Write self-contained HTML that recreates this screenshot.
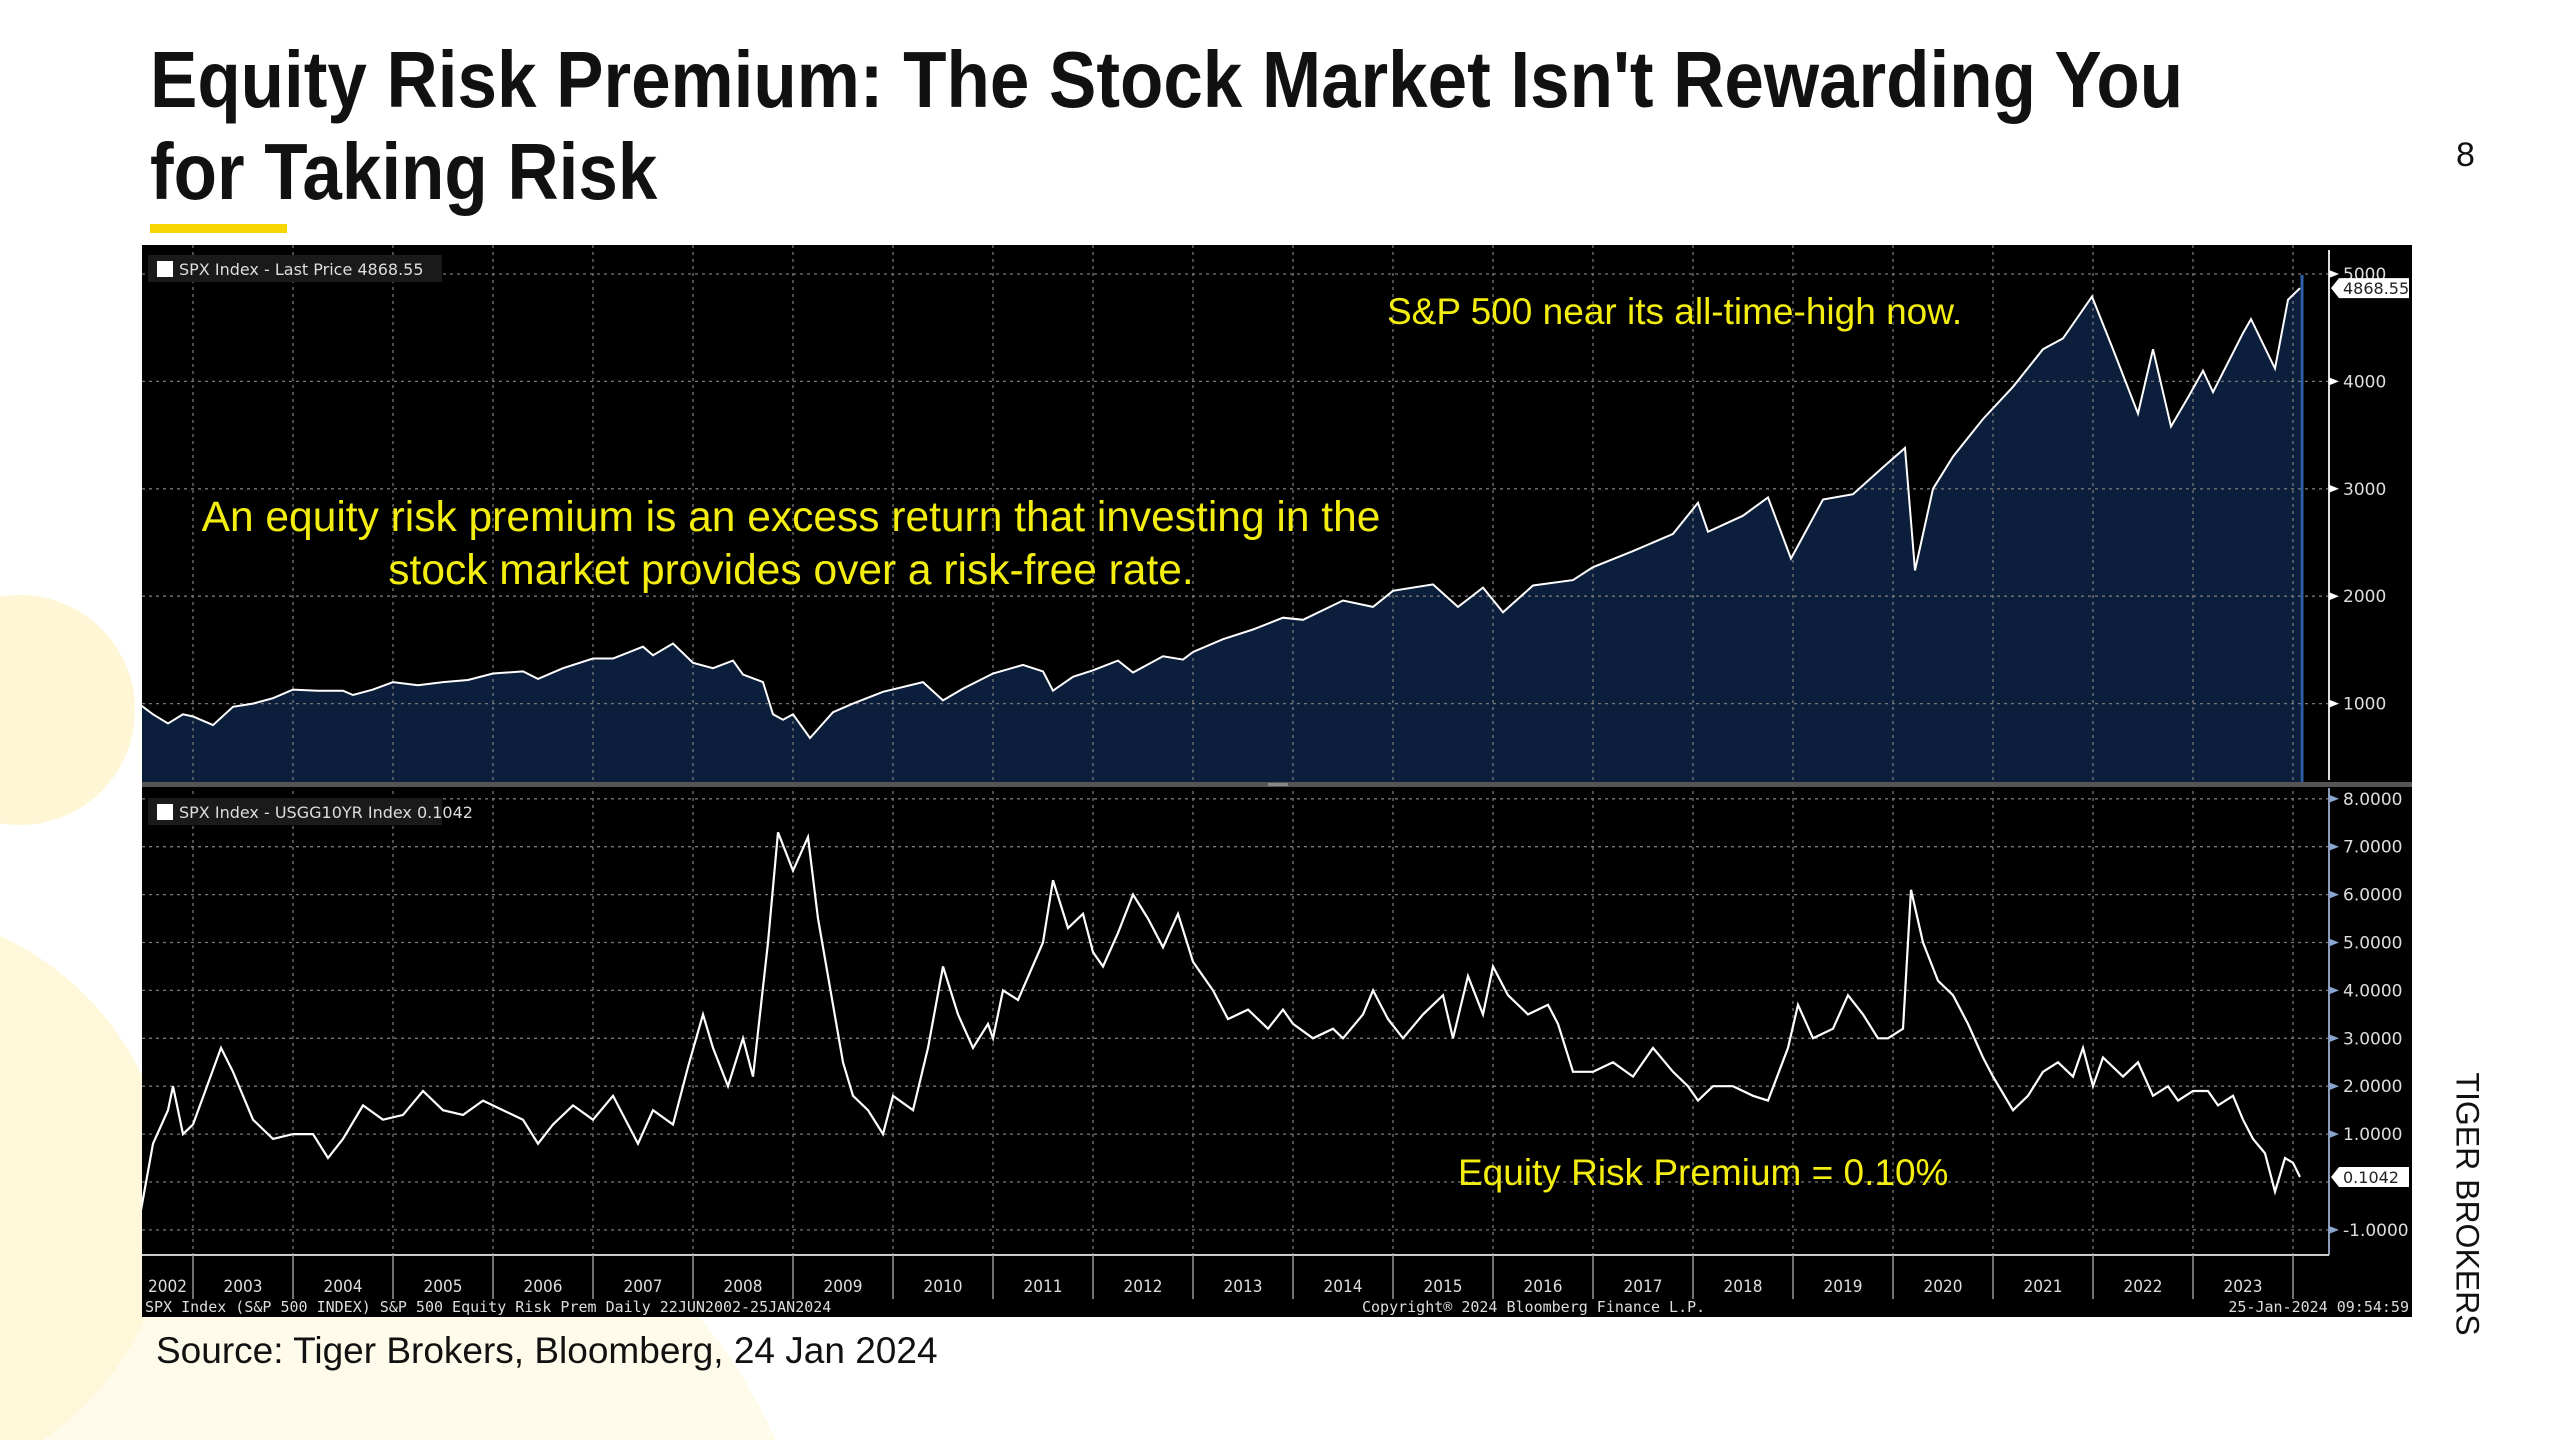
<!DOCTYPE html>
<html><head><meta charset="utf-8">
<style>
html,body{margin:0;padding:0;width:2560px;height:1440px;overflow:hidden;background:#fff;font-family:"Liberation Sans",sans-serif;}
.abs{position:absolute;}
#title{left:150px;top:34px;font-weight:bold;font-size:80px;line-height:92px;color:#111;transform:scaleX(0.887);transform-origin:left top;white-space:nowrap;}
</style></head>
<body>
<div class="abs" style="left:0;top:0;width:2560px;height:1440px;overflow:hidden;">
<svg width="2560" height="1440" style="position:absolute;left:0;top:0">
<circle cx="300" cy="1650" r="520" fill="#fffbea"/>
<circle cx="20" cy="710" r="115" fill="#fff6d6"/>
<circle cx="-120" cy="1200" r="290" fill="#fff7da"/>
</svg>
</div>
<div id="title" class="abs">Equity Risk Premium: The Stock Market Isn't Rewarding You<br>for Taking Risk</div>
<div class="abs" style="left:150px;top:224px;width:137px;height:9px;background:#f7d600;"></div>
<div class="abs" style="left:2456px;top:136px;font-size:34px;color:#111;">8</div>
<div class="abs" style="left:2467px;top:1204px;font-size:32px;color:#111;white-space:nowrap;transform:translate(-50%,-50%) rotate(90deg);">TIGER BROKERS</div>
<div class="abs" style="left:156px;top:1330px;font-size:37px;color:#111;white-space:nowrap;">Source: Tiger Brokers, Bloomberg, 24 Jan 2024</div>

<svg id="chart" class="abs" style="left:0;top:0" width="2560" height="1440"></svg>

<script>
const spxT=[2002.47,2002.6,2002.75,2002.9,2003.0,2003.2,2003.4,2003.6,2003.8,2004.0,2004.25,2004.5,2004.6,2004.8,2005.0,2005.25,2005.5,2005.75,2006.0,2006.3,2006.45,2006.7,2007.0,2007.2,2007.5,2007.6,2007.8,2007.9,2008.0,2008.2,2008.4,2008.5,2008.7,2008.8,2008.9,2009.0,2009.17,2009.4,2009.6,2009.9,2010.3,2010.5,2010.7,2011.0,2011.3,2011.5,2011.6,2011.8,2012.0,2012.25,2012.4,2012.7,2012.9,2013.0,2013.3,2013.6,2013.9,2014.1,2014.5,2014.8,2015.0,2015.4,2015.65,2015.9,2016.1,2016.4,2016.8,2017.0,2017.4,2017.8,2018.05,2018.15,2018.5,2018.75,2018.98,2019.3,2019.6,2019.9,2020.12,2020.22,2020.4,2020.6,2020.9,2021.2,2021.5,2021.7,2021.99,2022.2,2022.45,2022.6,2022.78,2022.95,2023.1,2023.2,2023.5,2023.58,2023.82,2023.95,2024.07];
const spxV=[990,900,815,900,880,800,970,1000,1050,1130,1120,1120,1080,1130,1200,1170,1200,1220,1280,1300,1230,1330,1420,1420,1530,1450,1560,1470,1380,1330,1400,1270,1200,900,850,900,680,920,1000,1110,1200,1030,1140,1280,1360,1300,1120,1250,1310,1400,1290,1440,1410,1480,1600,1690,1800,1780,1960,1900,2050,2110,1900,2080,1850,2100,2150,2270,2420,2580,2870,2600,2750,2920,2350,2900,2950,3200,3380,2240,3000,3300,3650,3950,4300,4400,4790,4300,3700,4300,3580,3850,4100,3900,4450,4580,4120,4760,4868.55];
const erpT=[2002.47,2002.6,2002.75,2002.8,2002.9,2003.0,2003.28,2003.4,2003.6,2003.8,2004.0,2004.2,2004.35,2004.5,2004.7,2004.9,2005.1,2005.3,2005.5,2005.7,2005.9,2006.1,2006.3,2006.45,2006.6,2006.8,2007.0,2007.2,2007.45,2007.6,2007.8,2007.95,2008.1,2008.2,2008.35,2008.5,2008.6,2008.75,2008.85,2009.0,2009.15,2009.25,2009.4,2009.5,2009.6,2009.75,2009.9,2010.0,2010.2,2010.35,2010.5,2010.65,2010.8,2010.95,2011.0,2011.1,2011.25,2011.5,2011.6,2011.75,2011.9,2012.0,2012.1,2012.25,2012.4,2012.55,2012.7,2012.85,2013.0,2013.2,2013.35,2013.55,2013.75,2013.9,2014.0,2014.2,2014.4,2014.5,2014.7,2014.8,2014.95,2015.1,2015.3,2015.5,2015.6,2015.75,2015.9,2016.0,2016.15,2016.35,2016.55,2016.65,2016.8,2017.0,2017.2,2017.4,2017.6,2017.8,2017.95,2018.05,2018.2,2018.4,2018.6,2018.75,2018.95,2019.05,2019.2,2019.4,2019.55,2019.7,2019.85,2019.95,2020.1,2020.18,2020.3,2020.45,2020.6,2020.75,2020.9,2021.0,2021.2,2021.35,2021.5,2021.65,2021.8,2021.9,2022.0,2022.1,2022.3,2022.45,2022.6,2022.75,2022.85,2023.0,2023.15,2023.25,2023.4,2023.5,2023.6,2023.72,2023.82,2023.92,2024.0,2024.07];
const erpV=[-0.7,0.8,1.5,2.0,1.0,1.2,2.8,2.3,1.3,0.9,1.0,1.0,0.5,0.9,1.6,1.3,1.4,1.9,1.5,1.4,1.7,1.5,1.3,0.8,1.2,1.6,1.3,1.8,0.8,1.5,1.2,2.4,3.5,2.8,2.0,3.0,2.2,5.0,7.3,6.5,7.2,5.5,3.7,2.5,1.8,1.5,1.0,1.8,1.5,2.8,4.5,3.5,2.8,3.3,3.0,4.0,3.8,5.0,6.3,5.3,5.6,4.8,4.5,5.2,6.0,5.5,4.9,5.6,4.6,4.0,3.4,3.6,3.2,3.6,3.3,3.0,3.2,3.0,3.5,4.0,3.4,3.0,3.5,3.9,3.0,4.3,3.5,4.5,3.9,3.5,3.7,3.3,2.3,2.3,2.5,2.2,2.8,2.3,2.0,1.7,2.0,2.0,1.8,1.7,2.8,3.7,3.0,3.2,3.9,3.5,3.0,3.0,3.2,6.1,5.0,4.2,3.9,3.3,2.6,2.2,1.5,1.8,2.3,2.5,2.2,2.8,2.0,2.6,2.2,2.5,1.8,2.0,1.7,1.9,1.9,1.6,1.8,1.3,0.9,0.6,-0.2,0.5,0.4,0.1042];
const years=[2003,2004,2005,2006,2007,2008,2009,2010,2011,2012,2013,2014,2015,2016,2017,2018,2019,2020,2021,2022,2023,2024];
const yearLabels=["2002","2003","2004","2005","2006","2007","2008","2009","2010","2011","2012","2013","2014","2015","2016","2017","2018","2019","2020","2021","2022","2023"];
const spxTicks=[1000,2000,3000,4000,5000];
const erpTicks=[-1,1,2,3,4,5,6,7,8];

const NS="http://www.w3.org/2000/svg";
const svg=document.getElementById('chart');
const X0=142,X1=2412,PR=2329,T0=245,SEP=784,B1=1255,FB=1317;
const xOf=t=>193+(t-2003)*100.0;
const yTop=v=>811-v*0.1074;
const yBot=v=>1182-v*47.9;
function mk(tag,attrs,parent){const e=document.createElementNS(NS,tag);for(const k in attrs)e.setAttribute(k,attrs[k]);(parent||svg).appendChild(e);return e;}
function txt(s,attrs,parent){const e=mk('text',attrs,parent);e.textContent=s;return e;}

let bg=mk('rect',{x:X0,y:T0,width:X1-X0,height:FB-T0,fill:'#000'});


const defs=mk('defs',{});
const cp=mk('clipPath',{id:'cTop'},defs);mk('rect',{x:X0,y:T0,width:PR-X0,height:SEP-T0},cp);
const cp2=mk('clipPath',{id:'cBot'},defs);mk('rect',{x:X0,y:SEP+2,width:PR-X0,height:B1-SEP-2},cp2);

let d='M'+xOf(spxT[0])+','+SEP;
spxT.forEach((t,i)=>{d+=' L'+xOf(t).toFixed(1)+','+yTop(spxV[i]).toFixed(1);});
d+=' L'+xOf(spxT[spxT.length-1]).toFixed(1)+','+SEP+' Z';
let area=mk('path',{d:d,fill:'#0b1e3b','clip-path':'url(#cTop)'});



const grid=mk('g',{stroke:'#777','stroke-width':1.3,'stroke-dasharray':'3,4'});


years.forEach(y=>{const x=xOf(y);if(x<PR){mk('line',{x1:x,y1:T0,x2:x,y2:SEP},grid);mk('line',{x1:x,y1:SEP,x2:x,y2:B1},grid);}});
spxTicks.forEach(v=>mk('line',{x1:X0,y1:yTop(v),x2:PR,y2:yTop(v)},grid));
erpTicks.concat([0]).forEach(v=>mk('line',{x1:X0,y1:yBot(v),x2:PR,y2:yBot(v)},grid));

let lp='';spxT.forEach((t,i)=>{lp+=(i?' L':'M')+xOf(t).toFixed(1)+','+yTop(spxV[i]).toFixed(1);});
let spxLine=mk('path',{d:lp,fill:'none',stroke:'#fff','stroke-width':2,'clip-path':'url(#cTop)'});


let ep='';erpT.forEach((t,i)=>{ep+=(i?' L':'M')+xOf(t).toFixed(1)+','+yBot(erpV[i]).toFixed(1);});
let erpLine=mk('path',{d:ep,fill:'none',stroke:'#fff','stroke-width':2.2,'clip-path':'url(#cBot)'});


mk('line',{x1:xOf(2024.07)+2,y1:T0+30,x2:xOf(2024.07)+2,y2:SEP,stroke:'#2f5fa8','stroke-width':3});

let sep=mk('rect',{x:X0,y:SEP-2,width:X1-X0,height:5,fill:'#555'});


mk('rect',{x:1268,y:SEP-1,width:20,height:3,fill:'#888'});

mk('line',{x1:PR,y1:T0+5,x2:PR,y2:SEP-4,stroke:'#ddd','stroke-width':2});
mk('line',{x1:PR,y1:SEP+4,x2:PR,y2:B1,stroke:'#8a9ab8','stroke-width':2});
spxTicks.forEach(v=>{const y=yTop(v);
 mk('path',{d:`M${PR},${y-4} L${PR+10},${y} L${PR},${y+4}Z`,fill:'#fff'});
 let t=txt(String(v),{x:PR+14,y:y+6,fill:'#ddd','font-size':17,'font-family':'DejaVu Sans, sans-serif'});
 
 });
erpTicks.forEach(v=>{const y=yBot(v);
 mk('path',{d:`M${PR},${y-4} L${PR+10},${y} L${PR},${y+4}Z`,fill:'#8aa4d0'});
 let t=txt((v<0?'-':'')+Math.abs(v).toFixed(4),{x:PR+14,y:y+6,fill:'#ddd','font-size':17,'font-family':'DejaVu Sans, sans-serif'});
 
 });
function tag(y,s,name){const g=mk('g',{});
 mk('path',{d:`M${PR+2},${y} L${PR+10},${y-10} L${X1-3},${y-10} L${X1-3},${y+10} L${PR+10},${y+10}Z`,fill:'#fff'},g);
 txt(s,{x:PR+14,y:y+6,fill:'#222','font-size':16,'font-family':'DejaVu Sans, sans-serif'},g);}
tag(yTop(spxV[spxV.length-1]),'4868.55','spx-last-value-tag');
tag(yBot(erpV[erpV.length-1]),'0.1042','erp-last-value-tag');

mk('line',{x1:X0,y1:B1,x2:PR,y2:B1,stroke:'#ccc','stroke-width':2});
years.forEach(y=>{const x=xOf(y);mk('line',{x1:x,y1:B1,x2:x,y2:B1+44,stroke:'#999','stroke-width':1.5});});
yearLabels.forEach((s,i)=>{const a=Math.max(xOf(+s),X0),b=xOf(+s+1);
 let t=txt(s,{x:(a+b)/2,y:B1+37,fill:'#ddd','font-size':17,'text-anchor':'middle','font-family':'DejaVu Sans Condensed, DejaVu Sans, sans-serif'});
 
 });
let f1=txt('SPX Index (S&P 500 INDEX) S&P 500 Equity Risk Prem  Daily 22JUN2002-25JAN2024',{x:X0+3,y:FB-5,fill:'#ddd','font-size':15,'font-family':'DejaVu Sans Mono, monospace','xml:space':'preserve'});


let f2=txt('Copyright® 2024 Bloomberg Finance L.P.',{x:1362,y:FB-5,fill:'#ddd','font-size':15,'font-family':'DejaVu Sans Mono, monospace'});


let f3=txt('25-Jan-2024 09:54:59',{x:X1-3,y:FB-5,fill:'#ddd','font-size':15,'text-anchor':'end','font-family':'DejaVu Sans Mono, monospace'});



function legend(y,s,name){const g=mk('g',{});
 mk('rect',{x:148,y:y,width:294,height:27,fill:'#1a1a1a'},g);
 mk('rect',{x:157,y:y+6,width:16,height:16,fill:'#fff'},g);
 txt(s,{x:179,y:y+20,fill:'#ddd','font-size':16,'font-family':'DejaVu Sans, sans-serif'},g);}
legend(255,'SPX Index - Last Price 4868.55','legend-spx');
legend(798,'SPX Index - USGG10YR Index 0.1042','legend-erp');

function ann(s,x,y,size,anchor,name){let t=txt(s,{x:x,y:y,fill:'#f4ee10','font-size':size,'text-anchor':anchor,'font-family':'Liberation Sans, sans-serif'});
 }
ann('S&P 500 near its all-time-high now.',1387,324,37,'start','annotation-all-time-high');
ann('An equity risk premium is an excess return that investing in the',791,531,42.5,'middle','annotation-definition-line1');
ann('stock market provides over a risk-free rate.',791,584,42.5,'middle','annotation-definition-line2');
ann('Equity Risk Premium = 0.10%',1458,1185,37,'start','annotation-erp-value');
</script>
</body></html>
